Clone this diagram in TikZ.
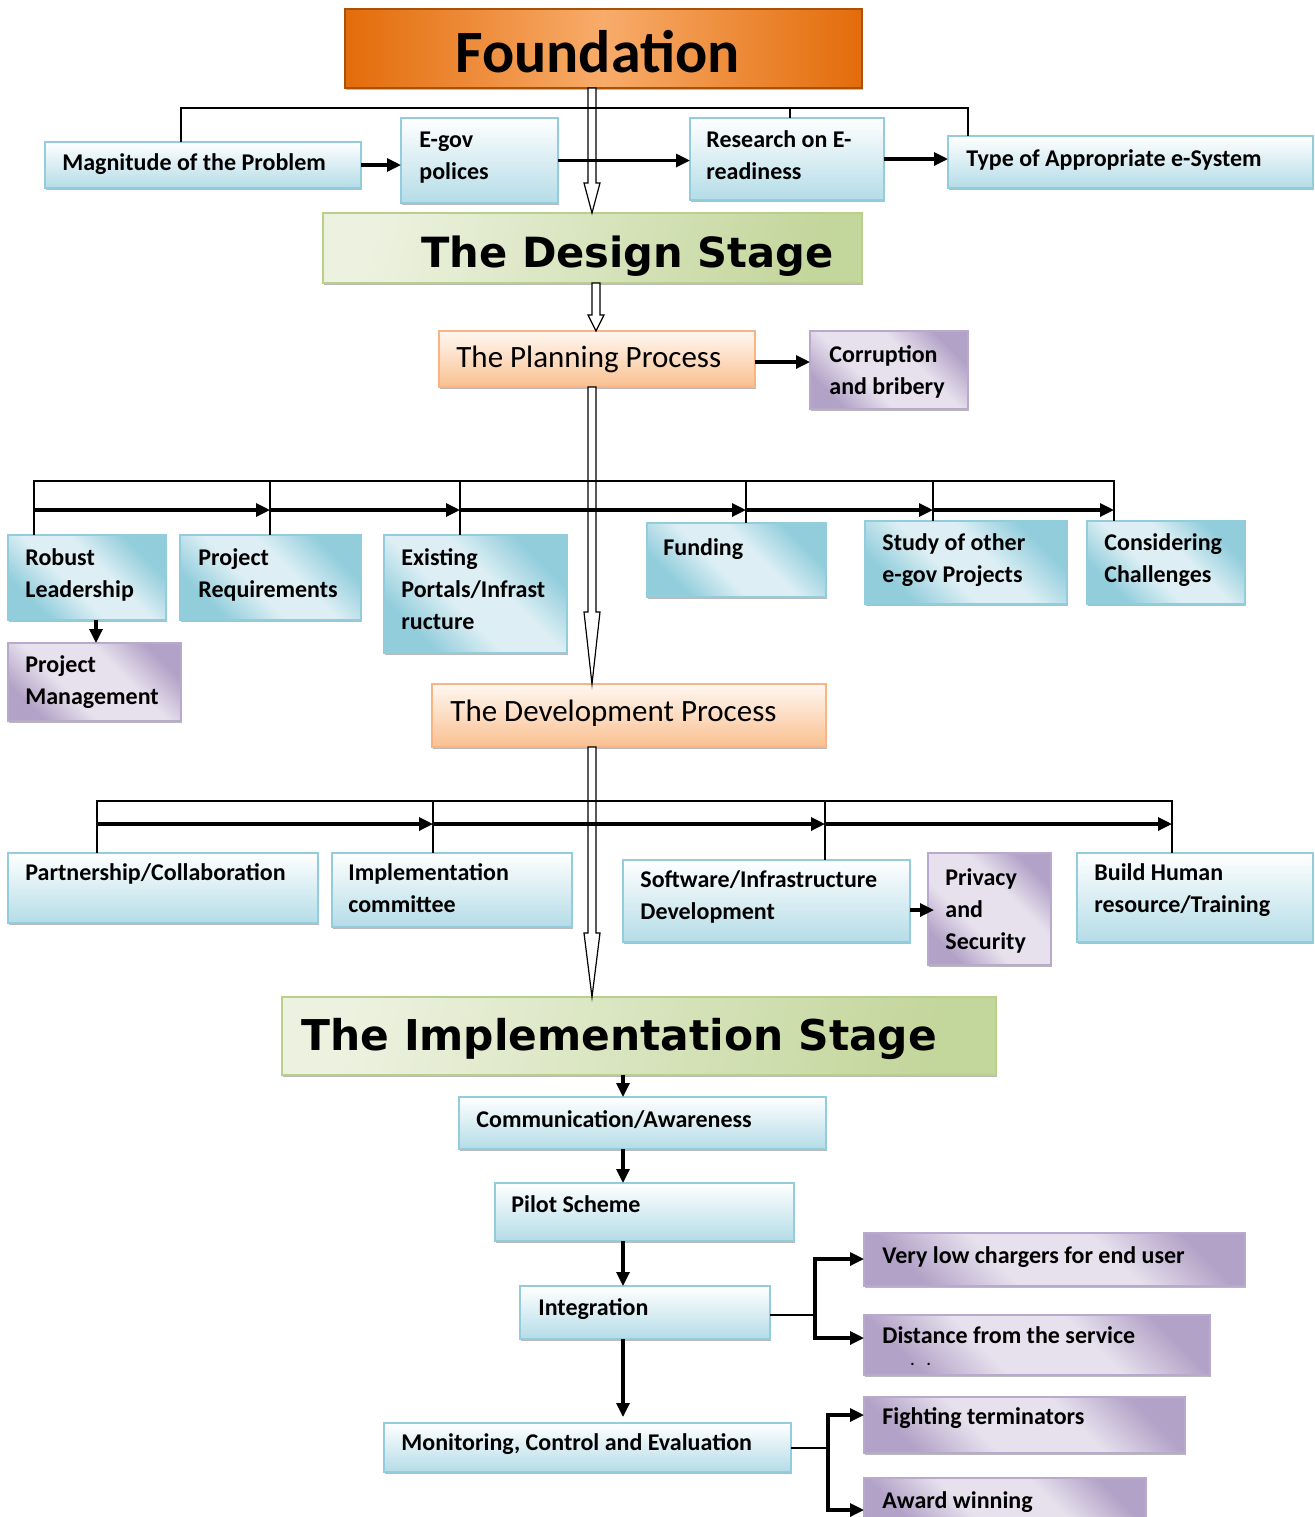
\documentclass[tikz,border=0pt]{standalone}
\usepackage{fontspec}
\setmainfont{Carlito}
\newfontfamily\stagefont{DejaVu Sans}
\usetikzlibrary{arrows.meta,calc,shadows}
\definecolor{bluelt}{HTML}{B4DCE7}
\definecolor{bluebd}{HTML}{93CDDD}
\definecolor{bluedk}{HTML}{92CDDC}
\definecolor{bluemid}{HTML}{DDEFF4}
\definecolor{purpdk}{HTML}{B3A2C7}
\definecolor{purplt}{HTML}{E6E1ED}
\definecolor{purpbd}{HTML}{B9A9CE}
\definecolor{peach}{HTML}{FAC090}
\definecolor{peachbd}{HTML}{F9B483}
\definecolor{grndk}{HTML}{C3D69B}
\definecolor{grnlt}{HTML}{EDF2E0}
\definecolor{grnbd}{HTML}{B9CF8C}
\definecolor{orgdk}{HTML}{E36C0A}
\definecolor{orglt}{HTML}{F8AC6A}
\pgfdeclarehorizontalshading{bdiag}{100bp}{color(0bp)=(bluedk); color(27bp)=(bluedk); color(43bp)=(bluemid); color(57bp)=(bluemid); color(73bp)=(bluedk); color(100bp)=(bluedk)}
\pgfdeclarehorizontalshading{pdiag}{100bp}{color(0bp)=(purpdk); color(25bp)=(purpdk); color(40bp)=(purplt); color(60bp)=(purplt); color(75bp)=(purpdk); color(100bp)=(purpdk)}
\newcommand\ml[1]{\parbox[t]{400pt}{\raggedright #1}}
\newcommand\bx[9]{\node[#1, minimum width={(#5-#3)*0.5pt}, minimum height={(#6-#4)*0.5pt},
  label={[tx, xshift={#7*0.5pt}, yshift={-#8*0.5pt}]north west:{#9}}] (#2) at ({(#3+#5)/2},{(#4+#6)/2}) {};}
\newcommand\hollow[4]{\draw[hol] let \p1=(#1.south), \p2=(#2.north) in
  ({(#3-4)*0.5pt},\y1) -- ({(#3-4)*0.5pt},{\y2+#4*0.5pt}) -- ({(#3-8)*0.5pt},{\y2+#4*0.5pt}) --
  ({#3*0.5pt},\y2) -- ({(#3+8)*0.5pt},{\y2+#4*0.5pt}) -- ({(#3+4)*0.5pt},{\y2+#4*0.5pt}) --
  ({(#3+4)*0.5pt},\y1) -- cycle;}
\tikzset{
  box/.style={rectangle, inner sep=0pt, outer sep=0pt, line width=0.6pt,
    drop shadow={shadow xshift=0.5pt, shadow yshift=-1.2pt, fill=black!60, opacity=0.45}},
  blueV/.style={box, draw=bluebd, top color=white, bottom color=bluelt},
  blueD/.style={box, draw=bluebd, shading=bdiag, shading angle=45},
  purpD/.style={box, draw=purpbd, shading=pdiag, shading angle=45},
  peachB/.style={box, draw=peachbd, top color=peach!12, bottom color=peach},
  greenB/.style={box, draw=grnbd, left color=grnlt, right color=grndk, shading angle=75},
  orangeB/.style={box, draw=orgdk!75!black, line width=1pt, left color=orgdk, right color=orgdk, middle color=orglt},
  tx/.style={anchor=base west, inner sep=0pt, font=\bfseries\fontsize{12}{16}\selectfont},
  thn/.style={line width=0.75pt},
  thk/.style={line width=1.6pt, -{Triangle[length=7pt,width=6.5pt]}},
  hol/.style={line width=0.6pt, fill=white},
}
\begin{document}
\begin{tikzpicture}[x=0.5pt, y=-0.5pt]
\useasboundingbox (0,0) rectangle (1315,1517);
% boxes
\bx{orangeB}{found}{345}{9}{862}{88}{110}{63}{\fontsize{30}{36}\selectfont Foundation}
\bx{blueV}{mag}{45}{142}{361}{188}{17}{28}{Magnitude of the Problem}
\bx{blueV}{egov}{401}{118}{558}{203}{18}{29}{\ml{E-gov\\polices}}
\bx{blueV}{res}{690}{118}{884}{200}{16}{29}{\ml{Research on E-\\readiness}}
\bx{blueV}{type}{948}{136}{1313}{188}{18}{30}{Type of Appropriate e-System}
\bx{greenB}{design}{323}{213}{862}{283}{98}{54}{\stagefont\fontsize{20.8}{24}\selectfont The Design Stage}
\bx{peachB}{plan}{439}{331}{755}{387}{17}{36}{\mdseries\fontsize{15.5}{18}\selectfont The Planning Process}
\bx{purpD}{corr}{810}{331}{968}{409}{19}{31}{\ml{Corruption\\and bribery}}
\bx{blueD}{robust}{8}{535}{166}{620}{17}{30}{\ml{Robust\\Leadership}}
\bx{blueD}{preq}{180}{535}{361}{620}{18}{30}{\ml{Project\\Requirements}}
\bx{blueD}{exist}{384}{535}{567}{653}{17}{30}{\ml{Existing\\Portals/Infrast\\ructure}}
\bx{blueD}{fund}{647}{523}{826}{597}{16}{32}{Funding}
\bx{blueD}{study}{865}{521}{1067}{604}{17}{29}{\ml{Study of other\\e-gov Projects}}
\bx{blueD}{cons}{1087}{521}{1245}{604}{17}{29}{\ml{Considering\\Challenges}}
\bx{purpD}{pm}{8}{643}{181}{721}{17}{29}{\ml{Project\\Management}}
\bx{peachB}{dev}{432}{684}{826}{747}{18}{37}{\mdseries\fontsize{15.5}{18}\selectfont The Development Process}
\bx{blueV}{partner}{8}{853}{318}{923}{17}{27}{Partnership/Collaboration}
\bx{blueV}{icom}{332}{853}{572}{927}{16}{27}{\ml{Implementation\\committee}}
\bx{blueV}{soft}{623}{860}{910}{942}{17}{27}{\ml{Software/Infrastructure\\Development}}
\bx{purpD}{priv}{928}{853}{1051}{965}{17}{32}{\ml{Privacy\\and\\Security}}
\bx{blueV}{build}{1077}{853}{1313}{942}{17}{27}{\ml{Build Human\\resource/Training}}
\bx{greenB}{impl}{282}{997}{996}{1075}{19}{53}{\stagefont\fontsize{21.2}{24}\selectfont The Implementation Stage}
\bx{blueV}{comm}{459}{1097}{826}{1149}{17}{30}{Communication/Awareness}
\bx{blueV}{pilot}{495}{1183}{794}{1241}{16}{29}{Pilot Scheme}
\bx{blueV}{integ}{520}{1286}{770}{1339}{18}{29}{Integration}
\bx{blueV}{mon}{384}{1423}{791}{1472}{17}{27}{Monitoring, Control and Evaluation}
\bx{purpD}{vl}{864}{1233}{1245}{1286}{18}{30}{Very low chargers for end user}
\bx{purpD}{dist}{864}{1315}{1210}{1375}{18}{28}{\ml{Distance from the service\\[-5pt]\hspace*{14pt}{\fontsize{8}{8}\selectfont .\hspace{6pt}.}}}
\bx{purpD}{fight}{864}{1397}{1185}{1453}{18}{27}{Fighting terminators}
\bx{purpD}{award}{864}{1478}{1146}{1524}{18}{30}{Award winning}
% hollow arrows
\hollow{found}{design}{592}{30}
\hollow{design}{plan}{596}{16}
\hollow{plan}{dev}{592}{72}
\hollow{dev}{impl}{592}{64}
% top connectors
\coordinate (ta) at (181,108); \coordinate (tb) at (790,108); \coordinate (tc) at (968,108);
\draw[thn] (mag.north -| ta) -- (ta) -- (tc) -- (type.north -| tc);
\draw[thn] (tb) -- (res.north -| tb);
\draw[thk] (mag.east) -- (mag.east -| egov.west);
\draw[thk] (egov.east) -- (egov.east -| res.west);
\draw[thk] (res.east) -- (res.east -| type.west);
% planning
\coordinate (yc) at (0,362);
\draw[thk] (plan.east |- yc) -- (corr.west |- yc);
\coordinate (p0) at (34,481); \coordinate (p1) at (270,481); \coordinate (p2) at (460,481);
\coordinate (p3) at (746,481); \coordinate (p4) at (933,481); \coordinate (p5) at (1114,481);
\draw[thn] (robust.north -| p0) -- (p0) -- (p5) -- (cons.north -| p5);
\draw[thn] (p1) -- (preq.north -| p1);
\draw[thn] (p2) -- (exist.north -| p2);
\draw[thn] (p3) -- (fund.north -| p3);
\draw[thn] (p4) -- (study.north -| p4);
\coordinate (q0) at (34,510); \coordinate (q1) at (270,510); \coordinate (q2) at (460,510);
\coordinate (q3) at (746,510); \coordinate (q4) at (933,510); \coordinate (q5) at (1114,510);
\draw[thk] (q0) -- (q1);
\draw[thk] (q1) -- (q2);
\draw[thk] (q2) -- (q3);
\draw[thk] (q3) -- (q4);
\draw[thk] (q4) -- (q5);
\coordinate (xr) at (96,0);
\draw[thk] (robust.south -| xr) -- (pm.north -| xr);
% development
\coordinate (d0) at (97,801); \coordinate (d1) at (433,801); \coordinate (d2) at (825,801); \coordinate (d3) at (1172,801);
\draw[thn] (partner.north -| d0) -- (d0) -- (d3) -- (build.north -| d3);
\draw[thn] (d1) -- (icom.north -| d1);
\draw[thn] (d2) -- (soft.north -| d2);
\coordinate (e0) at (97,824); \coordinate (e1) at (433,824); \coordinate (e2) at (825,824); \coordinate (e3) at (1172,824);
\draw[thk] (e0) -- (e1);
\draw[thk] (e1) -- (e2);
\draw[thk] (e2) -- (e3);
\coordinate (ys) at (0,910);
\draw[thk] (soft.east |- ys) -- ($(priv.west |- ys)+(6,0)$);
% implementation
\coordinate (cx) at (623,0);
\draw[thk] (impl.south -| cx) -- (comm.north -| cx);
\draw[thk] (comm.south -| cx) -- (pilot.north -| cx);
\draw[thk] (pilot.south -| cx) -- (integ.north -| cx);
\draw[thk] (integ.south -| cx) -- ($(mon.north -| cx)+(0,-6)$);
\coordinate (b1) at (815,1315); \coordinate (yv) at (0,1259); \coordinate (yd) at (0,1338);
\draw[line width=1.1pt] (integ.east |- b1) -- (b1);
\draw[thk] (b1) |- (vl.west |- yv);
\draw[thk] (b1) |- (dist.west |- yd);
\coordinate (b2) at (828,1448); \coordinate (yf) at (0,1415); \coordinate (ya) at (0,1510);
\draw[line width=1.1pt] (mon.east |- b2) -- (b2);
\draw[thk] (b2) |- (fight.west |- yf);
\draw[thk] (b2) |- (award.west |- ya);
\end{tikzpicture}
\end{document}
